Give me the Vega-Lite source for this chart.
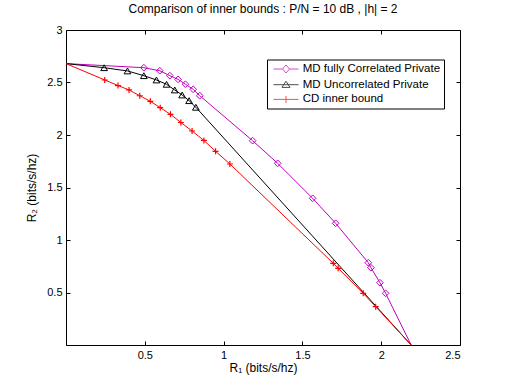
{
  "$schema": "https://vega.github.io/schema/vega-lite/v6.json",
  "width": 394,
  "height": 315,
  "autosize": {"type": "none"},
  "padding": {"left": 66, "top": 30, "right": 49, "bottom": 44},
  "background": "white",
  "config": {
    "font": "Liberation Sans",
    "view": {"stroke": "black", "strokeWidth": 1},
    "axis": {
      "grid": false,
      "domainColor": "black",
      "tickColor": "black",
      "labelColor": "black",
      "titleColor": "black",
      "labelFont": "Liberation Sans",
      "titleFont": "Liberation Sans",
      "labelFontSize": 11,
      "titleFontSize": 12,
      "titleFontWeight": "normal",
      "tickSize": -4,
      "labelPadding": 8,
      "format": "~g"
    },
    "legend": {"labelFontSize": 11.5, "labelFont": "Liberation Sans", "labelColor": "black"}
  },
  "title": {
    "text": "Comparison of inner bounds : P/N = 10 dB , |h| = 2",
    "font": "Liberation Sans",
    "fontSize": 12,
    "fontWeight": "normal",
    "color": "black",
    "offset": 8
  },
  "data": {
    "values": [
      {"series": "MD fully Correlated Private", "r1": 0, "r2": 2.68, "marked": false},
      {"series": "MD fully Correlated Private", "r1": 0.494, "r2": 2.641, "marked": true},
      {"series": "MD fully Correlated Private", "r1": 0.595, "r2": 2.612, "marked": true},
      {"series": "MD fully Correlated Private", "r1": 0.659, "r2": 2.565, "marked": true},
      {"series": "MD fully Correlated Private", "r1": 0.711, "r2": 2.53, "marked": true},
      {"series": "MD fully Correlated Private", "r1": 0.758, "r2": 2.483, "marked": true},
      {"series": "MD fully Correlated Private", "r1": 0.807, "r2": 2.435, "marked": true},
      {"series": "MD fully Correlated Private", "r1": 0.849, "r2": 2.374, "marked": true},
      {"series": "MD fully Correlated Private", "r1": 1.184, "r2": 1.946, "marked": true},
      {"series": "MD fully Correlated Private", "r1": 1.343, "r2": 1.73, "marked": true},
      {"series": "MD fully Correlated Private", "r1": 1.565, "r2": 1.397, "marked": true},
      {"series": "MD fully Correlated Private", "r1": 1.711, "r2": 1.159, "marked": true},
      {"series": "MD fully Correlated Private", "r1": 1.918, "r2": 0.784, "marked": true},
      {"series": "MD fully Correlated Private", "r1": 1.935, "r2": 0.736, "marked": true},
      {"series": "MD fully Correlated Private", "r1": 1.992, "r2": 0.593, "marked": true},
      {"series": "MD fully Correlated Private", "r1": 2.028, "r2": 0.492, "marked": true},
      {"series": "MD fully Correlated Private", "r1": 2.19, "r2": 0, "marked": false},
      {"series": "MD Uncorrelated Private", "r1": 0, "r2": 2.68, "marked": false},
      {"series": "MD Uncorrelated Private", "r1": 0.242, "r2": 2.641, "marked": true},
      {"series": "MD Uncorrelated Private", "r1": 0.39, "r2": 2.61, "marked": true},
      {"series": "MD Uncorrelated Private", "r1": 0.494, "r2": 2.565, "marked": true},
      {"series": "MD Uncorrelated Private", "r1": 0.574, "r2": 2.524, "marked": true},
      {"series": "MD Uncorrelated Private", "r1": 0.638, "r2": 2.483, "marked": true},
      {"series": "MD Uncorrelated Private", "r1": 0.69, "r2": 2.429, "marked": true},
      {"series": "MD Uncorrelated Private", "r1": 0.737, "r2": 2.381, "marked": true},
      {"series": "MD Uncorrelated Private", "r1": 0.781, "r2": 2.327, "marked": true},
      {"series": "MD Uncorrelated Private", "r1": 0.824, "r2": 2.264, "marked": true},
      {"series": "MD Uncorrelated Private", "r1": 2.19, "r2": 0, "marked": false},
      {"series": "CD inner bound", "r1": 0, "r2": 2.68, "marked": false},
      {"series": "CD inner bound", "r1": 0.246, "r2": 2.524, "marked": true},
      {"series": "CD inner bound", "r1": 0.33, "r2": 2.471, "marked": true},
      {"series": "CD inner bound", "r1": 0.4, "r2": 2.429, "marked": true},
      {"series": "CD inner bound", "r1": 0.468, "r2": 2.374, "marked": true},
      {"series": "CD inner bound", "r1": 0.535, "r2": 2.321, "marked": true},
      {"series": "CD inner bound", "r1": 0.598, "r2": 2.26, "marked": true},
      {"series": "CD inner bound", "r1": 0.663, "r2": 2.197, "marked": true},
      {"series": "CD inner bound", "r1": 0.729, "r2": 2.119, "marked": true},
      {"series": "CD inner bound", "r1": 0.8, "r2": 2.038, "marked": true},
      {"series": "CD inner bound", "r1": 0.875, "r2": 1.948, "marked": true},
      {"series": "CD inner bound", "r1": 0.949, "r2": 1.845, "marked": true},
      {"series": "CD inner bound", "r1": 1.04, "r2": 1.724, "marked": true},
      {"series": "CD inner bound", "r1": 1.696, "r2": 0.778, "marked": true},
      {"series": "CD inner bound", "r1": 1.727, "r2": 0.73, "marked": true},
      {"series": "CD inner bound", "r1": 1.886, "r2": 0.492, "marked": true},
      {"series": "CD inner bound", "r1": 1.965, "r2": 0.365, "marked": true},
      {"series": "CD inner bound", "r1": 2.19, "r2": 0, "marked": false}
    ]
  },
  "encoding": {
    "x": {
      "field": "r1", "type": "quantitative",
      "scale": {"domain": [0, 2.5], "nice": false, "zero": false},
      "axis": null
    },
    "y": {
      "field": "r2", "type": "quantitative",
      "scale": {"domain": [0, 3], "nice": false, "zero": false},
      "axis": null
    }
  },
  "resolve": {"axis": {"x": "independent", "y": "independent"}},
  "layer": [
    {
      "transform": [{"filter": "datum.series == 'MD fully Correlated Private'"}],
      "mark": {"type": "line", "strokeWidth": 1, "color": "#c000c0", "clip": true},
      "encoding": {
        "x": {
          "field": "r1", "type": "quantitative",
          "scale": {"domain": [0, 2.5], "nice": false, "zero": false},
          "axis": {"values": [0.5, 1, 1.5, 2, 2.5], "title": "R₁ (bits/s/hz)", "titlePadding": 2}
        },
        "y": {
          "field": "r2", "type": "quantitative",
          "scale": {"domain": [0, 3], "nice": false, "zero": false},
          "axis": {"values": [0.5, 1, 1.5, 2, 2.5, 3], "title": "R₂ (bits/s/hz)", "titlePadding": 8}
        },
        "order": {"field": "r1", "type": "quantitative"}
      }
    },
    {
      "transform": [{"filter": "datum.series == 'MD Uncorrelated Private'"}],
      "mark": {"type": "line", "strokeWidth": 1, "color": "#000000", "clip": true},
      "encoding": {"order": {"field": "r1", "type": "quantitative"}}
    },
    {
      "transform": [{"filter": "datum.series == 'CD inner bound'"}],
      "mark": {"type": "line", "strokeWidth": 1, "color": "#ff0000", "clip": true},
      "encoding": {"order": {"field": "r1", "type": "quantitative"}}
    },
    {
      "transform": [{"filter": "datum.marked && datum.series == 'MD fully Correlated Private'"}],
      "mark": {"type": "point", "shape": "diamond", "size": 45, "filled": false, "strokeWidth": 1, "color": "#c000c0", "opacity": 1}
    },
    {
      "transform": [{"filter": "datum.marked && datum.series == 'MD Uncorrelated Private'"}],
      "mark": {"type": "point", "shape": "triangle-up", "size": 45, "filled": false, "strokeWidth": 1, "color": "#000000", "opacity": 1}
    },
    {
      "transform": [{"filter": "datum.marked && datum.series == 'CD inner bound'"}],
      "mark": {"type": "point", "shape": "M-1,0H1M0,-1V1", "size": 36, "filled": false, "strokeWidth": 1.2, "color": "#ff0000", "opacity": 1}
    },
    {
      "mark": {"type": "point", "filled": false, "size": 0, "strokeWidth": 1},
      "encoding": {
        "x": {
          "field": "r1", "type": "quantitative",
          "scale": {"domain": [0, 2.5], "nice": false, "zero": false},
          "axis": {"orient": "top", "values": [0.5, 1, 1.5, 2, 2.5], "labels": false, "title": null, "domain": false}
        },
        "y": {
          "field": "r2", "type": "quantitative",
          "scale": {"domain": [0, 3], "nice": false, "zero": false},
          "axis": {"orient": "right", "values": [0.5, 1, 1.5, 2, 2.5, 3], "labels": false, "title": null, "domain": false}
        },
        "stroke": {
          "field": "series", "type": "nominal",
          "scale": {"domain": ["MD fully Correlated Private", "MD Uncorrelated Private", "CD inner bound"], "range": ["#c000c0", "#000000", "#ff0000"]},
          "legend": {
            "title": null,
            "orient": "none",
            "legendX": 201,
            "legendY": 29.5,
            "padding": 3,
            "strokeColor": "black",
            "fillColor": "white",
            "symbolSize": 144,
            "symbolStrokeWidth": 1,
            "symbolFillColor": "transparent",
            "labelFontSize": 11.5,
            "labelFont": "Liberation Sans",
            "labelColor": "black",
            "labelOffset": 19.7,
            "rowPadding": 2.7,
            "labelExpr": "datum.label == 'CD inner bound' ? ' CD inner bound' : datum.label"
          }
        },
        "shape": {
          "field": "series", "type": "nominal",
          "scale": {"domain": ["MD fully Correlated Private", "MD Uncorrelated Private", "CD inner bound"], "range": ["M-0.5,0H1M2.167,0H3.667M1.583,-0.667L2.167,0L1.583,0.667L1,0Z", "M-0.5,0H3.667M1.583,-0.583L2.25,0.45L0.917,0.45Z", "M-0.5,0H3.667M1.583,-0.583V0.583"]},
          "legend": {
            "title": null,
            "orient": "none",
            "legendX": 201,
            "legendY": 29.5,
            "padding": 3,
            "symbolSize": 144,
            "labelFontSize": 11.5,
            "labelOffset": 19.7,
            "rowPadding": 2.7,
            "labelExpr": "datum.label == 'CD inner bound' ? ' CD inner bound' : datum.label"
          }
        }
      }
    }
  ]
}
